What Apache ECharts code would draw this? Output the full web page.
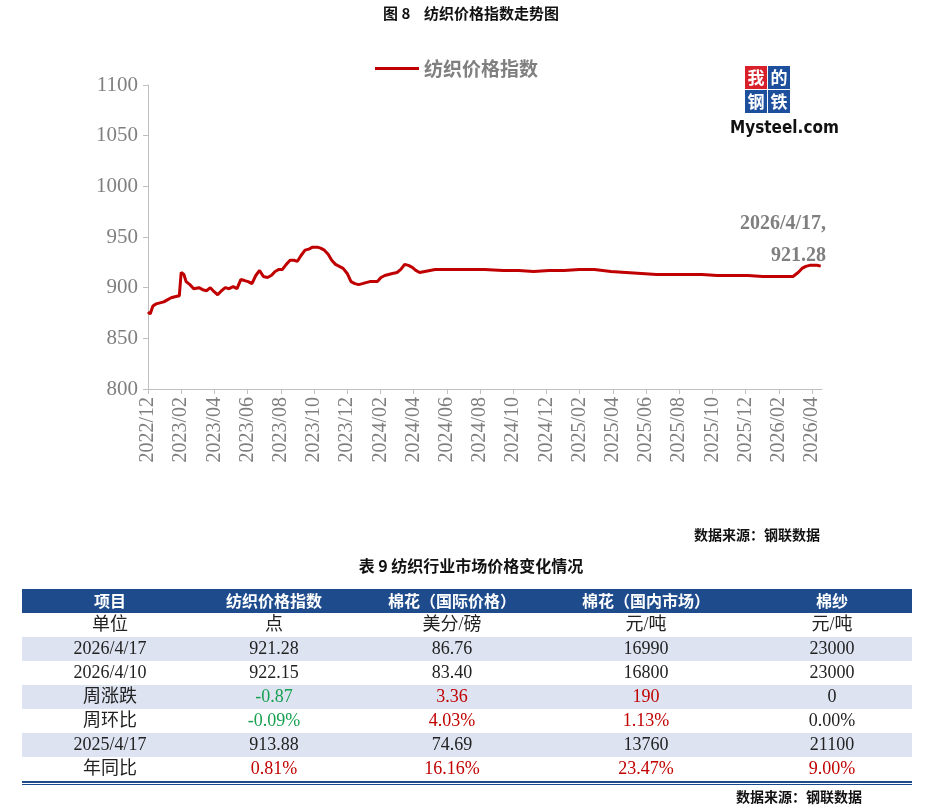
<!DOCTYPE html>
<html><head><meta charset="utf-8">
<script src="https://cdn.jsdelivr.net/npm/echarts@6/dist/echarts.min.js"></script>
<style>html,body{margin:0;padding:0;background:#fff}#main{width:942px;height:810px}</style>
</head><body><div id="main"></div>
<script>
// 纺织价格指数 (dates / values)
const dates = ['2022-12-01','2022-12-05','2022-12-10','2022-12-16','2022-12-23','2022-12-30','2023-01-06','2023-01-13','2023-01-20','2023-01-28',
  '2023-02-01','2023-02-06','2023-02-10','2023-02-17','2023-02-24','2023-03-03','2023-03-10','2023-03-17','2023-03-24','2023-03-31',
  '2023-04-07','2023-04-14','2023-04-21','2023-04-28','2023-05-05','2023-05-12','2023-05-19','2023-05-26','2023-06-02','2023-06-09',
  '2023-06-16','2023-06-23','2023-06-30','2023-07-07','2023-07-14','2023-07-21','2023-07-28','2023-08-04','2023-08-11','2023-08-18',
  '2023-08-25','2023-09-01','2023-09-08','2023-09-15','2023-09-22','2023-09-29','2023-10-07','2023-10-13','2023-10-20','2023-10-27',
  '2023-11-03','2023-11-10','2023-11-17','2023-11-24','2023-12-01','2023-12-08','2023-12-15','2023-12-22','2023-12-29','2024-01-05',
  '2024-01-12','2024-01-19','2024-01-26','2024-02-02','2024-02-09','2024-02-23','2024-03-01','2024-03-08','2024-03-15','2024-03-22',
  '2024-03-29','2024-04-05','2024-04-12','2024-05-10','2024-06-14','2024-07-12','2024-08-09','2024-09-13','2024-10-11','2024-11-08',
  '2024-12-06','2025-01-03','2025-01-31','2025-02-28','2025-03-28','2025-04-25','2025-05-23','2025-06-20','2025-07-18','2025-08-15',
  '2025-09-12','2025-10-10','2025-11-07','2025-12-05','2026-01-02','2026-01-30','2026-02-20','2026-02-27','2026-03-06','2026-03-13',
  '2026-03-20','2026-03-27','2026-04-03','2026-04-10','2026-04-17'];
const values = [876,874,882,884,885,886,888,890,891,892,
  915,913,906,903,899,900,898,897,900,896,
  893,897,900,899,901,899,908,907,906,904,
  912,917,911,910,912,916,918,918,923,927,
  927,926,932,937,938,940,940,939,937,933,
  927,923,921,919,914,906,904,903,904,905,
  906,906,906,910,912,914,915,918,923,922,
  920,917,915,918,918,918,918,917,917,916,
  917,917,918,918,916,915,914,913,913,913,
  913,912,912,912,911,911,911,911,915,919,
  921,922,922,922.15,921.28];
const monthTicks = ['2022/12','2023/02','2023/04','2023/06','2023/08','2023/10','2023/12','2024/02','2024/04','2024/06','2024/08','2024/10','2024/12',
  '2025/02','2025/04','2025/06','2025/08','2025/10','2025/12','2026/02','2026/04'];

// 表 9
const tableHeader = ['项目','纺织价格指数','棉花（国际价格）','棉花（国内市场）','棉纱'];
const tableRows = [
  ['单位','点','美分/磅','元/吨','元/吨'],
  ['2026/4/17','921.28','86.76','16990','23000'],
  ['2026/4/10','922.15','83.40','16800','23000'],
  ['周涨跌','-0.87','3.36','190','0'],
  ['周环比','-0.09%','4.03%','1.13%','0.00%'],
  ['2025/4/17','913.88','74.69','13760','21100'],
  ['年同比','0.81%','16.16%','23.47%','9.00%']
];
const tableColors = [
  [0,0,0,0,0],[0,0,0,0,0],[0,0,0,0,0],[0,2,1,1,0],[0,2,1,1,0],[0,0,0,0,0],[0,1,1,1,1]
];

function toMonthIdx(s) {
  const [y, m, d] = s.split('-').map(Number);
  return (y - 2022) * 12 + (m - 12) + (d - 1) / 30.5;
}
const lineData = dates.map((d, i) => [toMonthIdx(d), values[i]]);

const CN = '"Noto Sans CJK SC", sans-serif';
const SERIF = '"Liberation Serif", "DejaVu Serif", serif';
const colX = [110, 274, 452, 646, 832];
const rowH = 24, tabTop = 589, tabL = 22, tabR = 912;
const textColors = ['#222', '#c00000', '#18a050'];

const graphics = [];
graphics.push({type:'rect', shape:{x:tabL, y:tabTop, width:tabR-tabL, height:rowH}, style:{fill:'#1d4b8c'}});
tableHeader.forEach((h, c) => graphics.push({type:'text', x:colX[c], y:tabTop+rowH/2,
  style:{text:h, fill:'#fff', font:'bold 16px '+CN, textAlign:'center', textVerticalAlign:'middle'}}));
tableRows.forEach((row, r) => {
  const y = tabTop + rowH * (r + 1);
  if (r % 2 === 1) graphics.push({type:'rect', shape:{x:tabL, y:y, width:tabR-tabL, height:rowH}, style:{fill:'#dde3f1'}});
  row.forEach((t, c) => graphics.push({type:'text', x:colX[c], y:y+rowH/2,
    style:{text:t, fill:textColors[tableColors[r][c]], font:'18px '+SERIF+', '+CN, textAlign:'center', textVerticalAlign:'middle'}}));
});
const tabBottom = tabTop + rowH * (tableRows.length + 1);
graphics.push({type:'rect', shape:{x:tabL, y:tabBottom, width:tabR-tabL, height:2}, style:{fill:'#1d4b8c'}});
graphics.push({type:'rect', shape:{x:tabL, y:tabBottom+3, width:tabR-tabL, height:1}, style:{fill:'#1d4b8c'}});
// titles / sources
graphics.push({type:'text', x:471, y:6, style:{text:'图 8    纺织价格指数走势图', fill:'#111', font:'bold 15px '+CN, textAlign:'center'}});
graphics.push({type:'text', x:820, y:528, style:{text:'数据来源：钢联数据', fill:'#111', font:'bold 14px '+CN, textAlign:'right'}});
graphics.push({type:'text', x:471, y:558, style:{text:'表 9 纺织行业市场价格变化情况', fill:'#111', font:'bold 16px '+CN, textAlign:'center'}});
graphics.push({type:'text', x:862, y:790, style:{text:'数据来源：钢联数据', fill:'#111', font:'bold 14px '+CN, textAlign:'right'}});
// logo
[['我','#d7202a',745,66],['的','#1e4f9c',768,66],['钢','#1e4f9c',745,90],['铁','#1e4f9c',768,90]].forEach(l => {
  graphics.push({type:'rect', shape:{x:l[2], y:l[3], width:22, height:23}, style:{fill:l[1]}});
  graphics.push({type:'text', x:l[2]+11, y:l[3]+11.5, style:{text:l[0], fill:'#fff', font:'bold 17px '+CN, textAlign:'center', textVerticalAlign:'middle'}});
});
graphics.push({type:'text', x:730, y:120, style:{text:'Mysteel.com', fill:'#111', font:'bold 17px "Liberation Sans Narrow", "DejaVu Sans Condensed", sans-serif'}});
// annotation
graphics.push({type:'text', x:826, y:208, style:{text:'2026/4/17,\n921.28', fill:'#7f7f7f', font:'bold 20px '+SERIF, textAlign:'right', lineHeight:32}});

const chart = echarts.init(document.getElementById('main'));
chart.setOption({
  animation: false,
  backgroundColor: '#fff',
  legend: {
    top: 54, left: 370, itemWidth: 44, itemHeight: 3, icon: 'rect',
    textStyle: {color: '#7f7f7f', fontSize: 19, fontFamily: CN, fontWeight: 'bold'},
    data: ['纺织价格指数']
  },
  grid: {left: 148, right: 120, top: 85, bottom: 421},
  xAxis: {
    type: 'value', min: 0, max: 40.6, interval: 2,
    axisLine: {lineStyle: {color: '#bfbfbf'}},
    axisTick: {show: true, lineStyle: {color: '#bfbfbf'}},
    splitLine: {show: false},
    axisLabel: {
      rotate: 90, color: '#7f7f7f', fontSize: 20, fontFamily: SERIF, margin: 8, showMaxLabel: false,
      formatter: v => monthTicks[Math.round(v / 2)] || ''
    }
  },
  yAxis: {
    type: 'value', min: 800, max: 1100, interval: 50,
    axisLine: {show: true, lineStyle: {color: '#bfbfbf'}},
    axisTick: {show: true, lineStyle: {color: '#bfbfbf'}},
    splitLine: {show: false},
    axisLabel: {color: '#7f7f7f', fontSize: 21, fontFamily: SERIF, margin: 10, formatter: v => String(v)}
  },
  series: [{
    name: '纺织价格指数', type: 'line', data: lineData, showSymbol: false,
    lineStyle: {color: '#c00000', width: 3}, itemStyle: {color: '#c00000'}
  }],
  graphic: graphics
});
</script>
</body></html>
